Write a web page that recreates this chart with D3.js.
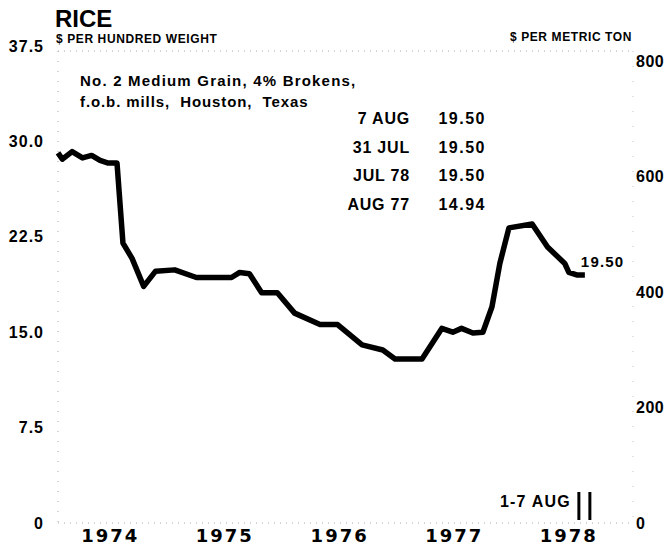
<!DOCTYPE html>
<html>
<head>
<meta charset="utf-8">
<script src="https://cdn.jsdelivr.net/npm/d3@7"></script>
<style>
  html, body { margin: 0; padding: 0; background: #fff; }
  svg { display: block; }
  text { fill: #000; }
</style>
</head>
<body>
<svg id="chart" width="671" height="546"></svg>
<script>
// Rice, No. 2 Medium Grain, 4% Brokens, f.o.b. mills, Houston — $ per hundredweight
const obsDates = [
  "1974-01-01","1974-01-15","1974-02-15","1974-03-20","1974-04-18","1974-05-15",
  "1974-06-10","1974-07-08","1974-07-27","1974-08-25","1974-10-01","1974-11-08",
  "1975-01-08","1975-03-18","1975-07-08","1975-08-03","1975-09-03","1975-10-12",
  "1975-12-01","1976-01-25","1976-04-15","1976-06-10","1976-08-27","1976-11-01",
  "1976-12-10","1977-03-06","1977-05-08","1977-06-12","1977-07-10","1977-08-15",
  "1977-09-16","1977-10-15","1977-11-09","1977-12-08","1978-02-20","1978-04-10",
  "1978-06-04","1978-06-17","1978-07-12","1978-08-07"
];
const obsPrices = [
  29.1, 28.6, 29.2, 28.7, 28.9, 28.5,
  28.3, 28.3, 22.0, 20.8, 18.6, 19.8,
  19.9, 19.3, 19.3, 19.7, 19.6, 18.1,
  18.1, 16.5, 15.6, 15.6, 14.0, 13.6,
  12.9, 12.9, 15.3, 15.0, 15.3, 14.94,
  15.0, 17.0, 20.4, 23.2, 23.5, 21.7,
  20.4, 19.7, 19.5, 19.5
];
const cwtTicks = [0, 7.5, 15, 22.5, 30, 37.5];
const cwtTickLabels = ["0", "7.5", "15.0", "22.5", "30.0", "37.5"];
const tonTicks = [0, 200, 400, 600, 800];
const years = [1974, 1975, 1976, 1977, 1978];
const tableLabels = ["7 AUG", "31 JUL", "JUL 78", "AUG 77"];
const tableValues = ["19.50", "19.50", "19.50", "14.94"];
const latestValue = 19.50;
const latestWeek = "1-7 AUG";
const CWT_TO_TON = 22.0462;

const svg = d3.select("#chart");
const font = "'Liberation Sans', Arial, Helvetica, sans-serif";

const x = d3.scaleTime()
  .domain([new Date(1974, 0, 1), new Date(1979, 0, 1)])
  .range([58, 631]);
const y = d3.scaleLinear().domain([0, 37.5]).range([523, 46]);
const yTon = d3.scaleLinear().domain([0, 37.5 * CWT_TO_TON]).range([523, 46]);

// faint dotted frame
const frame = svg.append("g")
  .attr("stroke", "#aaa").attr("stroke-width", 1)
  .attr("stroke-dasharray", "1,5").attr("fill", "none");
frame.append("line").attr("x1", x.range()[0]).attr("x2", 633)
  .attr("y1", y(0)).attr("y2", y(0));
frame.append("line").attr("x1", x.range()[0]).attr("x2", 633)
  .attr("y1", y(37.5) + 5).attr("y2", y(37.5) + 5);
frame.append("line").attr("x1", x.range()[0]).attr("x2", x.range()[0])
  .attr("y1", y(37.5) + 5).attr("y2", y(0)).attr("stroke-dasharray", "1,9");
frame.append("line").attr("x1", 633).attr("x2", 633)
  .attr("y1", y(37.5) + 5).attr("y2", y(0)).attr("stroke-dasharray", "1,14")
  .attr("stroke", "#c4c4c4");

// left axis: $ per hundredweight
const leftAxis = d3.axisLeft(y)
  .tickValues(cwtTicks)
  .tickFormat((d, i) => cwtTickLabels[i])
  .tickSize(0).tickPadding(0);
const gl = svg.append("g").attr("transform", "translate(44,0)").call(leftAxis);
gl.select(".domain").remove();
gl.selectAll("text")
  .attr("font-family", font).attr("font-weight", "bold")
  .attr("font-size", 16).attr("letter-spacing", "1px")
  .attr("fill", "#000");

// right axis: $ per metric ton
const rightAxis = d3.axisRight(yTon)
  .tickValues(tonTicks).tickFormat(d3.format("d"))
  .tickSize(0).tickPadding(0);
const gr = svg.append("g").attr("transform", "translate(636,0)").call(rightAxis);
gr.select(".domain").remove();
gr.selectAll("text")
  .attr("font-family", font).attr("font-weight", "bold")
  .attr("font-size", 16).attr("letter-spacing", "0.5px")
  .attr("fill", "#000");

// year labels
const bottomAxis = d3.axisBottom(x)
  .tickValues(years.map(yr => new Date(yr, 5, 15)))
  .tickFormat(d3.timeFormat("%Y"))
  .tickSize(0).tickPadding(0);
const gb = svg.append("g").attr("transform", "translate(0,529)").call(bottomAxis);
gb.select(".domain").remove();
gb.selectAll("text")
  .attr("font-family", "'DejaVu Sans', sans-serif").attr("font-weight", "bold")
  .attr("font-size", 18).attr("letter-spacing", "2px")
  .attr("dy", "0.71em").attr("fill", "#000");

// price line
const pts = obsDates.map((d, i) => ({ date: d3.timeParse("%Y-%m-%d")(d), v: obsPrices[i] }));
const line = d3.line().x(d => x(d.date)).y(d => y(d.v));
svg.append("path").datum(pts)
  .attr("d", line)
  .attr("fill", "none").attr("stroke", "#000")
  .attr("stroke-width", 5.5).attr("stroke-linejoin", "round").attr("stroke-linecap", "butt");

const last = pts[pts.length - 1];
svg.append("text")
  .attr("x", x(last.date) - 4).attr("y", y(latestValue) - 8)
  .attr("font-family", font).attr("font-weight", "bold").attr("font-size", 15)
  .attr("letter-spacing", "1.2px")
  .text(d3.format(".2f")(latestValue));

// week marker
svg.append("g").selectAll("line").data([-6, 5]).join("line")
  .attr("x1", d => x(last.date) + d).attr("x2", d => x(last.date) + d)
  .attr("y1", 492).attr("y2", 520)
  .attr("stroke", "#000").attr("stroke-width", 3);
svg.append("text")
  .attr("x", x(last.date) - 14).attr("y", 507)
  .attr("text-anchor", "end")
  .attr("font-family", font).attr("font-weight", "bold").attr("font-size", 16)
  .attr("letter-spacing", "1.2px")
  .text(latestWeek);

// titles
svg.append("text").attr("x", 55).attr("y", 27)
  .attr("font-family", font).attr("font-weight", "bold").attr("font-size", 24)
  .text("RICE");
svg.append("text").attr("x", 56).attr("y", 43)
  .attr("font-family", font).attr("font-weight", "bold").attr("font-size", 12)
  .attr("letter-spacing", "0.6px")
  .text("$ PER HUNDRED WEIGHT");
svg.append("text").attr("x", 632).attr("y", 41).attr("text-anchor", "end")
  .attr("font-family", font).attr("font-weight", "bold").attr("font-size", 12)
  .attr("letter-spacing", "0.6px")
  .text("$ PER METRIC TON");

svg.append("text").attr("x", 80).attr("y", 86)
  .attr("font-family", font).attr("font-weight", "bold").attr("font-size", 15)
  .attr("letter-spacing", "1.2px")
  .text("No. 2 Medium Grain, 4% Brokens,");
svg.append("text").attr("x", 80).attr("y", 107)
  .attr("font-family", font).attr("font-weight", "bold").attr("font-size", 15)
  .attr("letter-spacing", "0.9px")
  .style("white-space", "pre")
  .text("f.o.b. mills,  Houston,  Texas");

// summary table
const rowY = d3.scalePoint().domain(tableLabels).range([124, 210]);
const tbl = svg.append("g")
  .attr("font-family", font).attr("font-weight", "bold").attr("font-size", 16)
  .attr("letter-spacing", "0.8px");
tbl.selectAll("text.lab").data(tableLabels).join("text")
  .attr("class", "lab")
  .attr("x", 410).attr("y", d => rowY(d)).attr("text-anchor", "end")
  .style("white-space", "pre")
  .text(d => d);
tbl.selectAll("text.val").data(tableValues).join("text")
  .attr("class", "val")
  .attr("x", 486).attr("y", (d, i) => rowY(tableLabels[i])).attr("text-anchor", "end")
  .attr("letter-spacing", "1.5px")
  .text(d => d);
</script>
</body>
</html>
